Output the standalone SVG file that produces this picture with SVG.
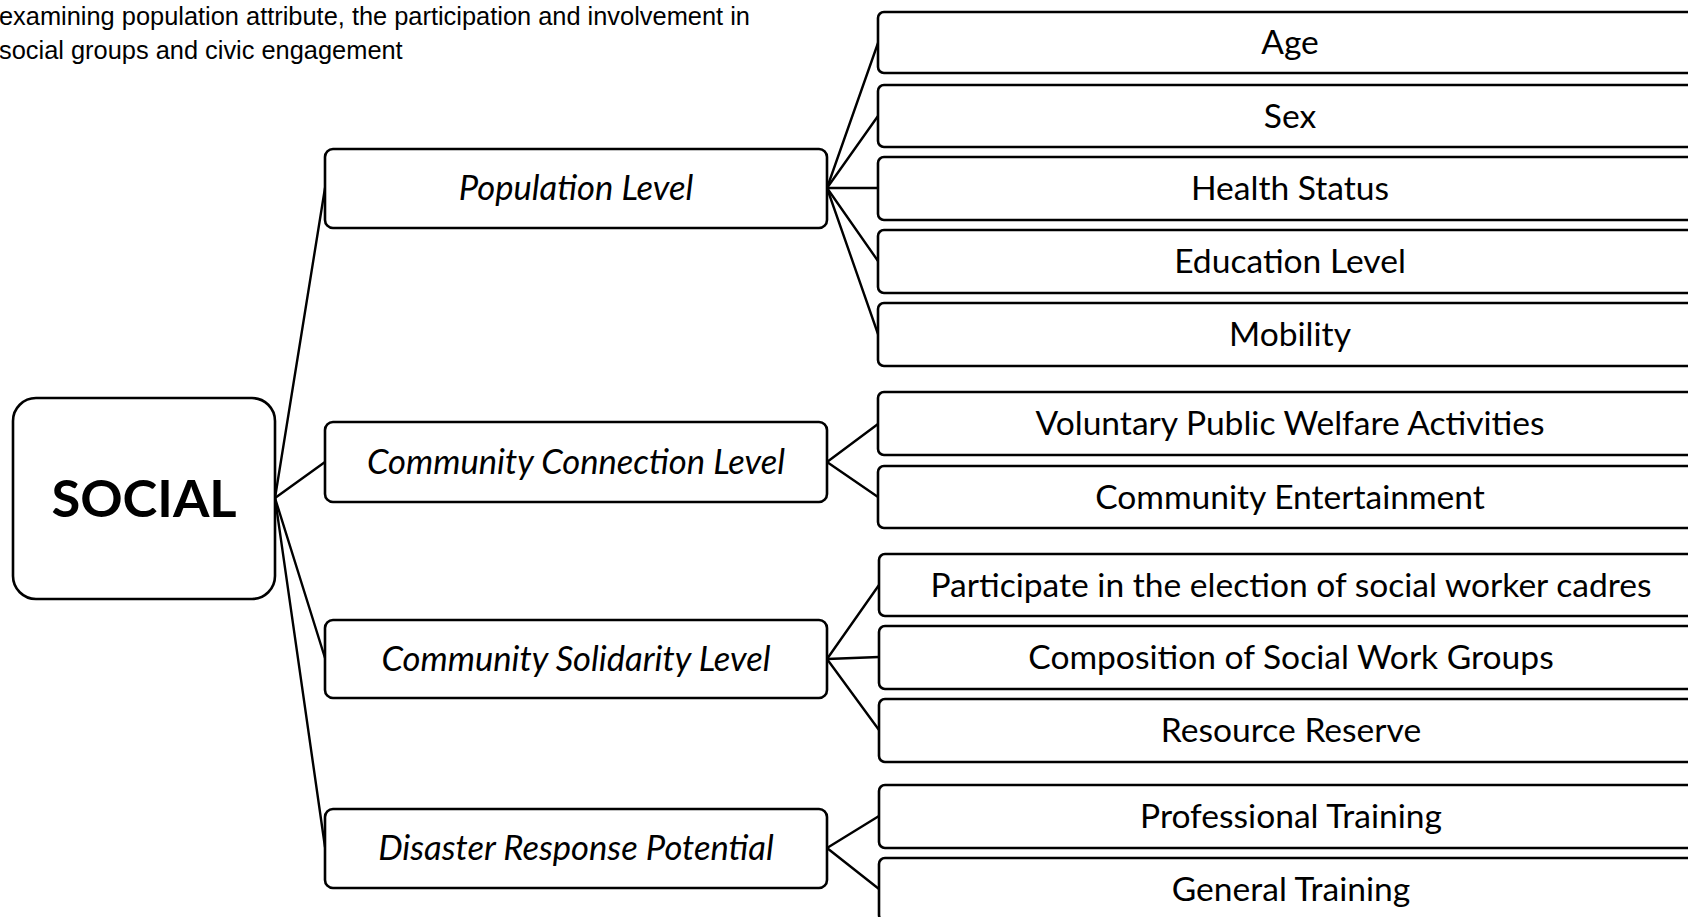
<svg xmlns="http://www.w3.org/2000/svg" width="1688" height="917" viewBox="0 0 1688 917">
  <style>
    .box { fill: #ffffff; stroke: #000000; stroke-width: 2.6; }
    .link { fill: none; stroke: #000000; stroke-width: 2.4; stroke-linecap: round; }
    .note { font-family: "Liberation Sans", Arial, sans-serif; font-size: 25.4px; fill: #000000; }
    .root { font-family: Lato, "Open Sans", sans-serif; font-weight: bold; font-size: 52.5px; fill: #000000; text-anchor: middle; }
    .level { font-family: Lato, "Open Sans", sans-serif; font-style: italic; font-size: 34.6px; fill: #000000; text-anchor: middle; }
    .item { font-family: Lato, "Open Sans", sans-serif; font-size: 33.6px; fill: #000000; text-anchor: middle; }
  </style>
  <rect width="1688" height="917" fill="#ffffff"/>

  <!-- caption -->
  <text class="note" x="-1" y="25">examining population attribute, the participation and involvement in</text>
  <text class="note" x="-1" y="59">social groups and civic engagement</text>

  <!-- connectors -->
  <g id="connectors">
    <path class="link" d="M275 498 L325 188"/>
    <path class="link" d="M275 498 L325 462"/>
    <path class="link" d="M275 498 L325 658"/>
    <path class="link" d="M275 498 L325 847"/>

    <path class="link" d="M827 188 L878 43"/>
    <path class="link" d="M827 188 L878 116"/>
    <path class="link" d="M827 188 L878 188"/>
    <path class="link" d="M827 188 L878 261"/>
    <path class="link" d="M827 188 L878 334"/>

    <path class="link" d="M827 462 L878 424"/>
    <path class="link" d="M827 462 L878 497"/>

    <path class="link" d="M827 659 L879 585"/>
    <path class="link" d="M827 659 L879 657"/>
    <path class="link" d="M827 659 L879 730"/>

    <path class="link" d="M827 848 L879 816"/>
    <path class="link" d="M827 848 L879 889"/>
  </g>

  <!-- root -->
  <g id="social">
    <rect class="box" x="13" y="398" width="262" height="201" rx="23"/>
    <text class="root" x="144" y="517">SOCIAL</text>
  </g>

  <!-- levels -->
  <g id="population-level">
    <rect class="box" x="325" y="149" width="502" height="79" rx="8"/>
    <text class="level" x="576" y="200">Population Level</text>
  </g>
  <g id="community-connection-level">
    <rect class="box" x="325" y="422" width="502" height="80" rx="8"/>
    <text class="level" x="576" y="474">Community Connection Level</text>
  </g>
  <g id="community-solidarity-level">
    <rect class="box" x="325" y="620" width="502" height="78" rx="8"/>
    <text class="level" x="576" y="671">Community Solidarity Level</text>
  </g>
  <g id="disaster-response-potential">
    <rect class="box" x="325" y="809" width="502" height="79" rx="8"/>
    <text class="level" x="576" y="860">Disaster Response Potential</text>
  </g>

  <!-- indicators -->
  <g id="age">
    <rect class="box" x="878" y="12" width="830" height="61" rx="6"/>
    <text class="item" x="1290" y="54">Age</text>
  </g>
  <g id="sex">
    <rect class="box" x="878" y="85" width="830" height="62" rx="6"/>
    <text class="item" x="1290" y="128">Sex</text>
  </g>
  <g id="health-status">
    <rect class="box" x="878" y="157" width="830" height="63" rx="6"/>
    <text class="item" x="1290" y="200">Health Status</text>
  </g>
  <g id="education-level">
    <rect class="box" x="878" y="230" width="830" height="63" rx="6"/>
    <text class="item" x="1290" y="273">Education Level</text>
  </g>
  <g id="mobility">
    <rect class="box" x="878" y="303" width="830" height="63" rx="6"/>
    <text class="item" x="1290" y="346">Mobility</text>
  </g>
  <g id="voluntary-public-welfare">
    <rect class="box" x="878" y="392" width="830" height="63" rx="6"/>
    <text class="item" x="1290" y="435">Voluntary Public Welfare Activities</text>
  </g>
  <g id="community-entertainment">
    <rect class="box" x="878" y="466" width="830" height="62" rx="6"/>
    <text class="item" x="1290" y="509">Community Entertainment</text>
  </g>
  <g id="election-participation">
    <rect class="box" x="879" y="554" width="830" height="62" rx="6"/>
    <text class="item" x="1291" y="597">Participate in the election of social worker cadres</text>
  </g>
  <g id="social-work-groups">
    <rect class="box" x="879" y="626" width="830" height="63" rx="6"/>
    <text class="item" x="1291" y="669">Composition of Social Work Groups</text>
  </g>
  <g id="resource-reserve">
    <rect class="box" x="879" y="699" width="830" height="63" rx="6"/>
    <text class="item" x="1291" y="742">Resource Reserve</text>
  </g>
  <g id="professional-training">
    <rect class="box" x="879" y="785" width="830" height="63" rx="6"/>
    <text class="item" x="1291" y="828">Professional Training</text>
  </g>
  <g id="general-training">
    <rect class="box" x="879" y="858" width="830" height="63" rx="6"/>
    <text class="item" x="1291" y="901">General Training</text>
  </g>
</svg>
